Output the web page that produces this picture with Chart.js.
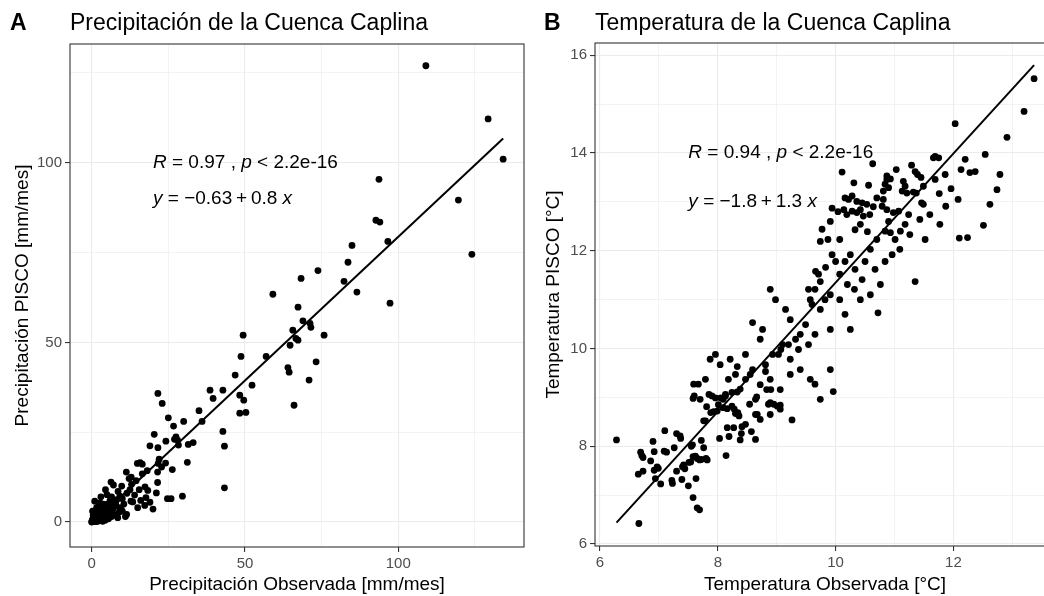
<!DOCTYPE html>
<html>
<head>
<meta charset="UTF-8">
<title>Precipitación y Temperatura de la Cuenca Caplina</title>
<script src="https://cdn.jsdelivr.net/npm/chart.js"></script>
<style>
  html, body { margin: 0; padding: 0; background: #fff; overflow: hidden; }
  #wrap { position: relative; width: 1044px; height: 596px; overflow: hidden; }
  canvas { position: absolute; top: 0; }
</style>
</head>
<body>
<div id="wrap">
  <canvas id="precip" width="530" height="596" style="left:0"></canvas>
  <canvas id="temp" width="530" height="596" style="left:530px"></canvas>
</div>
<script>
// precipitation, observed vs PISCO [mm/mes]
const precipObs = [
  109,129.3,134.2,93.7,119.6,92.7,94,96.6,84.9,83.6,
  82.3,124,97.3,86.5,73.8,68.3,59.1,67.3,68.9,71.2,
  71.5,75.8,65.6,66.6,67.3,49.4,48.7,56.9,64.7,73.2,
  64,64.4,70.9,46.8,42.8,38.6,48.3,49.6,52.3,66,
  50.3,48.3,39.6,42.8,43.3,43.3,21.6,26.7,20.4,27.5,
  27,28,19,21.6,24.2,28.3,31.5,33.1,31.2,15.8,
  16.5,14.9,22,21.7,24.1,22.8,26.3,21.5,11.3,12.9,
  12.2,16.5,18.1,6.3,7.1,17.4,18.3,21.5,12.5,21.1,
  17.7,17.3,24.7,25.9,29.6,10,9.2,12.8,13.4,8.2,
  6.5,2.7,4.3,1.6,6.8,9,11.4,0,0.2,0.5,
  0.8,1,1.2,1.5,2,2.2,2.5,3,3.2,3.5,
  4,4.2,4.8,5,5.5,5.8,6.2,6.5,7,7.5,
  8,8.5,9.5,10,10.5,11,7.8,3.8,2.8,1.8,
  0.5,0.3,1,3,5,4.5,8.6,9.8,11.5,13,
  14,15,15.5,14.5,16,19,20,0.1,0.4,0.7,
  1.3,1.9,2.6,0.9,3.6,4.4,2.3,5.2,6,23,
  35,30,25,36
];
const precipPisco = [
  127,112.2,101,95.4,89.6,84,83.5,78.1,77,72.3,
  67,74.5,60.9,64,70,67.8,63.4,59.8,56,55.3,
  54.2,52,53.4,51.1,50.6,52,46.1,46.1,49.2,44.6,
  43,41.7,39.5,40.9,36.7,36.7,35.3,33.9,38.1,32.5,
  30.5,30.3,34.4,25.2,21.1,9.5,35.8,26.7,24.4,23.7,
  23,22.8,21.2,20.7,22.5,21.4,21.6,22.1,16.6,16.5,
  16.1,16.3,17.5,16.3,16.4,15.3,14.6,13.9,13.9,12.5,
  12.1,13.4,14.3,11.1,10.3,9.8,8.8,11,9,8.1,
  6.8,4.6,6.5,6.5,7.2,6.5,7.2,5.8,5.6,6.2,
  7,5.3,4.2,4,2.8,2.8,2.1,0,0.5,0.2,
  1,0.3,1.5,0.8,0.2,1.2,2,0.6,1.8,3,
  1,2.4,1.6,3.5,0.9,2.5,4.5,1.5,3.8,2,
  4.5,1.2,4,3,5,1.5,5.5,5,3.5,2.6,
  1.8,3,5.8,7,7.6,9,8.5,10,8,10.5,
  7.5,4,9,11.5,6,5.5,3.6,0.1,0.8,0.4,
  0.1,0.6,0.9,2.2,0.2,0.5,4.5,5,6,33,
  31,28,29,28
];
const precipMajor = [0, 50, 100];
const precipMinor = [25, 75, 125];
const precipFit = [-0.63, 0.8];   // intercept, slope

// temperature, observed vs PISCO [°C]
const tempObs = [
  6.28,6.66,6.69,6.71,6.73,6.9,6.92,7.1,7.09,7.13,
  6.86,6.65,6.73,6.92,6.97,6.99,6.94,7.03,7.22,7.23,
  7.3,7.26,7.3,7.36,7.37,7.4,7.42,7.44,7.39,7.5,
  7.51,7.54,7.55,7.57,7.58,7.62,7.65,7.69,7.72,7.8,
  7.82,7.63,7.58,7.65,7.69,7.72,7.76,7.59,7.6,7.58,
  7.76,7.79,7.81,7.85,7.9,7.96,7.88,7.93,7.99,8.03,
  8.14,8.19,8.05,8.09,8.13,8.09,8.16,8.24,8.28,8.34,
  8.3,8.36,8.16,8.27,8.41,8.4,8.38,8.24,8.33,8.38,
  8.57,8.54,8.64,8.67,8.64,8.66,8.86,8.89,8.95,9.01,
  8.83,8.9,9.26,9.96,9.06,8.59,8.76,8.72,8.47,8.21,
  8.33,8.55,8.81,8.89,9.03,9.1,9.23,9.32,9.4,9.49,
  9.23,9.15,8.98,8.89,9.57,9.65,9.74,9.91,9.83,9.94,
  9.66,10.16,9.74,9.54,9.6,9.82,10.07,10.2,10.32,10.45,
  10.25,10.16,9.91,9.65,9.54,9.37,9.2,9.07,8.93,8.81,
  8.59,9.23,9.4,9.57,9.06,8.72,8.47,8.3,8.18,8.13,
  8.01,9.74,9.87,10.07,10.33,10.42,10.54,10.7,10.25,10,
  9.71,10.07,10.33,10.5,10.59,10.04,9.91,9.77,10.64,10.9,
  11.01,11.09,11.26,10.84,10.96,10.67,10.42,10.59,10.76,10.72,
  11.35,11.43,11.6,11.77,11.52,12.08,11.86,12.2,12.37,12.54,
  12.74,12.79,12.62,7.7,7.87,7.96,8.04,7.79,7.67,8.47,
  8.72,8.89,9.06,8.64,9.74,9.65,9.91,10.63,10.11,10.31,
  10.56,9.94,10.16,10.22,10.28,10.36,10.45,10.53,10.7,10.81,
  10.87,10.28,10.36,10.42,10.47,10.58,10.14,10.19,12.03,13.2,
  12.91,13.37,11.69,11.75,11.66,11.29,11.03,12.13,12.28,11.35,
  11.39,11.45,10.87,10.93,10.84,10.9,10.81,11.15,11.18,11.13,
  11.21,11.32,11.37,11.49,11.69,11.96,11.76,11.87,11.46,11.49,
  10.79,10.87,10.98,11.07,11.24,11.18,11.1,10.93,12.51,12.24,
  10.84,12.1
];
const tempPisco = [
  8.13,6.42,7.88,7.81,7.77,8.1,7.89,8.32,7.9,7.88,
  7.7,7.43,7.49,7.51,7.58,7.55,7.34,7.23,7.3,7.24,
  7.49,7.97,8.26,8.21,8.16,7.58,7.62,7.54,7.32,7.19,
  7.67,7.68,8.0,8.03,7.79,7.8,7.75,7.72,7.73,7.75,
  7.72,7.34,6.95,6.74,6.7,8.12,7.97,9.27,9.03,8.98,
  8.52,8.52,8.81,9.06,9.03,8.99,8.69,8.71,8.72,8.16,
  7.81,8.2,8.99,8.96,9.03,8.79,8.77,8.82,8.76,8.69,
  8.67,8.62,8.38,8.38,8.4,8.26,8.13,9.1,9.11,9.17,
  8.3,8.86,8.65,8.65,8.96,9.01,8.86,8.89,8.86,8.82,
  9.16,9.16,8.54,9.12,8.84,10.53,10.39,10.19,9.88,9.78,
  9.63,9.47,9.53,9.37,9.88,10.08,9.78,10.19,10.29,10.49,
  10.59,10.8,11.0,11.21,11.0,11.21,10.8,11.1,11.66,11.92,
  11.58,11.78,11.37,11.21,10.9,11.0,11.0,11.31,11.21,11.41,
  10.39,10.7,10.39,10.29,10.08,9.98,10.08,9.98,9.88,9.67,
  9.57,9.47,9.57,9.37,9.16,9.26,9.37,9.47,9.37,9.06,
  8.85,12.19,12.23,12.23,12.43,12.54,12.39,12.23,11.92,11.78,
  11.52,11.52,11.62,11.78,12.03,12.8,12.6,12.44,12.9,12.6,
  12.23,12.03,12.33,11.78,11.92,11.62,11.0,11.1,11.31,10.73,
  11.37,12.64,12.74,12.54,12.23,13.05,13.56,13.87,13.62,13.97,
  13.25,13.56,12.95,8.96,9.78,9.88,9.67,9.37,9.27,8.45,
  8.55,8.65,8.76,8.14,8.96,9.27,9.57,13.78,13.61,13.39,
  13.34,12.87,13.08,13.05,13.12,13.01,12.98,12.95,13.08,13.05,
  13.46,12.81,12.78,12.84,12.71,12.74,12.84,12.74,14.6,14.85,
  14.32,15.52,13.93,13.9,13.9,13.75,13.66,13.66,13.6,13.62,
  13.56,13.5,13.53,13.47,13.36,13.29,13.22,13.42,13.32,13.22,
  13.18,13.2,13.18,13.32,13.46,13.27,13.17,12.91,12.98,12.95,
  12.91,12.84,12.78,12.81,12.74,12.54,12.4,12.37,12.52,12.27,
  12.4,12.26
];
const tempXMajor = [6, 8, 10, 12];
const tempXMinor = [7, 9, 11, 13];
const tempYMajor = [6, 8, 10, 12, 14, 16];
const tempYMinor = [7, 9, 11, 13, 15];
const tempFit = [-1.85, 1.32];

const FONT = '"Liberation Sans", Arial, sans-serif';

function toPoints(xs, ys) {
  return xs.map((x, i) => ({ x: x, y: ys[i] }));
}

function fitLine(xs, fit) {
  const lo = Math.min(...xs), hi = Math.max(...xs);
  return [lo, hi].map(x => ({ x: x, y: fit[0] + fit[1] * x }));
}

function axis(major, minor, min, max, title, size) {
  const all = major.concat(minor).sort((a, b) => a - b);
  const isMajor = v => major.includes(v);
  return {
    type: 'linear', min: min, max: max,
    afterBuildTicks: s => { s.ticks = all.map(v => ({ value: v })); },
    afterFit: s => { if (s.isHorizontal()) s.height = size; else s.width = size; },
    ticks: {
      color: '#4d4d4d', font: { family: FONT, size: 15 }, padding: 3,
      autoSkip: false, maxRotation: 0,
      callback: v => isMajor(v) ? String(v) : ''
    },
    grid: {
      color: '#ebebeb',
      lineWidth: c => isMajor(c.tick.value) ? 1.1 : 0.6,
      tickLength: 5, tickWidth: 1.1,
      tickColor: c => isMajor(c.tick.value) ? '#333333' : 'rgba(0,0,0,0)'
    },
    border: { display: false },
    title: { display: true, text: title, color: '#000', font: { family: FONT, size: 19 }, padding: 0 }
  };
}

// panel border, tag letter, title and the R / equation text
const panelText = {
  id: 'panelText',
  afterDraw(chart, args, o) {
    const { ctx, chartArea: a, scales } = chart;
    ctx.save();
    ctx.strokeStyle = '#333333';
    ctx.lineWidth = 1.1;
    ctx.strokeRect(a.left, a.top, a.right - a.left, a.bottom - a.top);
    ctx.fillStyle = '#000';
    ctx.textAlign = 'left';
    ctx.textBaseline = 'alphabetic';
    ctx.font = 'bold 23px ' + FONT;
    ctx.fillText(o.tag, o.tagX, 30);
    ctx.font = '23px ' + FONT;
    ctx.fillText(o.title, a.left, 30);
    ctx.textBaseline = 'middle';
    o.lines.forEach(line => {
      let x = scales.x.getPixelForValue(line.x);
      const y = scales.y.getPixelForValue(line.y);
      line.parts.forEach(p => {
        ctx.font = (p.it ? 'italic ' : '') + '19px ' + FONT;
        ctx.fillText(p.t, x, y);
        x += ctx.measureText(p.t).width;
      });
    });
    ctx.restore();
  }
};

function makeChart(id, pts, line, xAxis, yAxis, pad, text) {
  return new Chart(document.getElementById(id), {
    type: 'scatter',
    data: {
      datasets: [
        { data: line, showLine: true, borderColor: '#000', borderWidth: 2, pointRadius: 0, fill: false },
        { data: pts, backgroundColor: '#000', borderWidth: 0, pointRadius: 3.4, pointHoverRadius: 3.4 }
      ]
    },
    options: {
      responsive: false, animation: false, devicePixelRatio: 1,
      layout: { padding: pad },
      plugins: { legend: { display: false }, tooltip: { enabled: false }, panelText: text },
      scales: { x: xAxis, y: yAxis }
    },
    plugins: [panelText]
  });
}

makeChart('precip',
  toPoints(precipObs, precipPisco),
  fitLine(precipObs, precipFit),
  axis(precipMajor, precipMinor, -7.07, 141, 'Precipitación Observada [mm/mes]', 49),
  axis(precipMajor, precipMinor, -6.96, 133.06, 'Precipitación PISCO [mm/mes]', 59),
  { left: 11, right: 6, top: 44, bottom: 0 },
  {
    tag: 'A', tagX: 10, title: 'Precipitación de la Cuenca Caplina',
    lines: [
      { x: 20, y: 100, parts: [{ t: 'R', it: true }, { t: ' = 0.97 , ' }, { t: 'p', it: true }, { t: ' < 2.2e-16' }] },
      { x: 20, y: 90, parts: [{ t: 'y', it: true }, { t: ' = \u22120.63\u2009+\u20090.8 ' }, { t: 'x', it: true }] }
    ]
  });

makeChart('temp',
  toPoints(tempObs, tempPisco),
  fitLine(tempObs, tempFit),
  axis(tempXMajor, tempXMinor, 5.915, 13.725, 'Temperatura Observada [°C]', 50),
  axis(tempYMajor, tempYMinor, 5.96, 16.25, 'Temperatura PISCO [°C]', 53),
  { left: 12, right: 5, top: 43, bottom: 0 },
  {
    tag: 'B', tagX: 14, title: 'Temperatura de la Cuenca Caplina',
    lines: [
      { x: 7.5, y: 14, parts: [{ t: 'R', it: true }, { t: ' = 0.94 , ' }, { t: 'p', it: true }, { t: ' < 2.2e-16' }] },
      { x: 7.5, y: 13, parts: [{ t: 'y', it: true }, { t: ' = \u22121.8\u2009+\u20091.3 ' }, { t: 'x', it: true }] }
    ]
  });
</script>
</body>
</html>
